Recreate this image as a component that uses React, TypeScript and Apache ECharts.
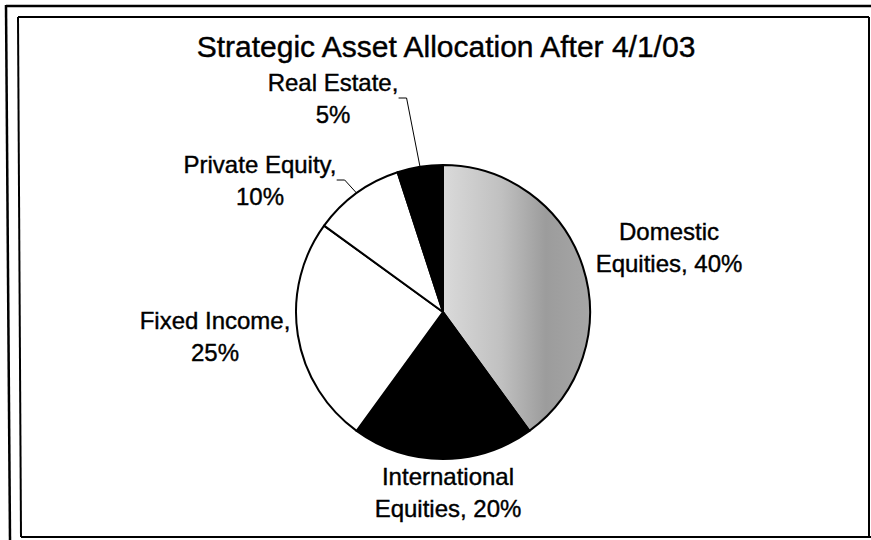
import React, { useEffect, useRef } from "react";
import * as echarts from "echarts";

const TITLE = "Strategic Asset Allocation After 4/1/03";
const categories = [
  "Domestic Equities",
  "International Equities",
  "Fixed Income",
  "Private Equity",
  "Real Estate",
];
const shares = [40, 20, 25, 10, 5];

// styling (not data)
const FONT = "'Liberation Sans', Arial, Helvetica, sans-serif";
const grayFill = {
  type: "linear",
  x: 0,
  y: 0,
  x2: 1,
  y2: 0,
  colorStops: [
    { offset: 0, color: "#dadada" },
    { offset: 0.4, color: "#c0c0c0" },
    { offset: 0.7, color: "#9c9c9c" },
    { offset: 1, color: "#a6a6a6" },
  ],
};
const fills = [grayFill, "#000000", "#ffffff", "#ffffff", "#000000"];
const withLeader = [false, false, false, true, true];
const labelSpots = [
  { x: 669, y: 247 },
  { x: 448, y: 492 },
  { x: 215, y: 336 },
  { x: 260, y: 180 },
  { x: 333, y: 98 },
];

export default function App() {
  const ref = useRef<HTMLDivElement>(null);

  useEffect(() => {
    if (!ref.current) return;
    const chart = echarts.init(ref.current, undefined, { renderer: "svg" });

    const data = categories.map((name, i) => ({
      name,
      value: shares[i],
      itemStyle: { color: fills[i] as any },
      labelLine: withLeader[i]
        ? { show: true, length: 8, length2: 8, lineStyle: { color: "#000", width: 1 } }
        : { show: false },
    }));

    chart.setOption({
      animation: false,
      backgroundColor: "#ffffff",
      title: {
        text: TITLE,
        left: 441,
        top: 26,
        textAlign: "center",
        textStyle: {
          fontFamily: FONT,
          fontSize: 30,
          fontWeight: "normal",
          color: "#000",
          textBorderColor: "#000",
          textBorderWidth: 0.4,
        },
      },
      series: [
        {
          type: "pie",
          center: [443, 312],
          radius: 147,
          startAngle: 90,
          clockwise: true,
          avoidLabelOverlap: false,
          emphasis: { disabled: true },
          itemStyle: { borderColor: "#000", borderWidth: 2 },
          label: {
            show: true,
            position: "outside",
            fontFamily: FONT,
            fontSize: 24,
            lineHeight: 32,
            color: "#000",
            textBorderColor: "#000",
            textBorderWidth: 0.4,
            align: "center",
            formatter: (p: any) => {
              const parts = String(p.name).split(" ");
              if (parts[parts.length - 1] === "Equities" && parts.length === 2) {
                return `${parts[0]}\nEquities, ${p.value}%`;
              }
              return `${p.name},\n${p.value}%`;
            },
          },
          labelLine: { show: false },
          labelLayout: (params: any) => {
            const s = labelSpots[params.dataIndex];
            return { x: s.x, y: s.y, align: "center", verticalAlign: "middle" };
          },
          data,
        },
      ],
      graphic: [
        {
          type: "line",
          shape: { x1: 6, y1: 6, x2: 871, y2: 6 },
          style: { stroke: "#000", lineWidth: 2.5 },
          silent: true,
        },
        {
          type: "line",
          shape: { x1: 6, y1: 5, x2: 10, y2: 540 },
          style: { stroke: "#000", lineWidth: 2.5 },
          silent: true,
        },
        {
          type: "line",
          shape: { x1: 18, y1: 17, x2: 869, y2: 17 },
          style: { stroke: "#000", lineWidth: 2 },
          silent: true,
        },
        {
          type: "line",
          shape: { x1: 18, y1: 17, x2: 21, y2: 537 },
          style: { stroke: "#000", lineWidth: 2 },
          silent: true,
        },
        {
          type: "line",
          shape: { x1: 21, y1: 537, x2: 871, y2: 537 },
          style: { stroke: "#000", lineWidth: 2 },
          silent: true,
        },
        {
          type: "line",
          shape: { x1: 869, y1: 17, x2: 869, y2: 537 },
          style: { stroke: "#000", lineWidth: 2 },
          silent: true,
        },
      ],
    });

    return () => chart.dispose();
  }, []);

  return (
    <div
      ref={ref}
      style={{ position: "absolute", left: 0, top: 0, width: 871, height: 540 }}
    />
  );
}
